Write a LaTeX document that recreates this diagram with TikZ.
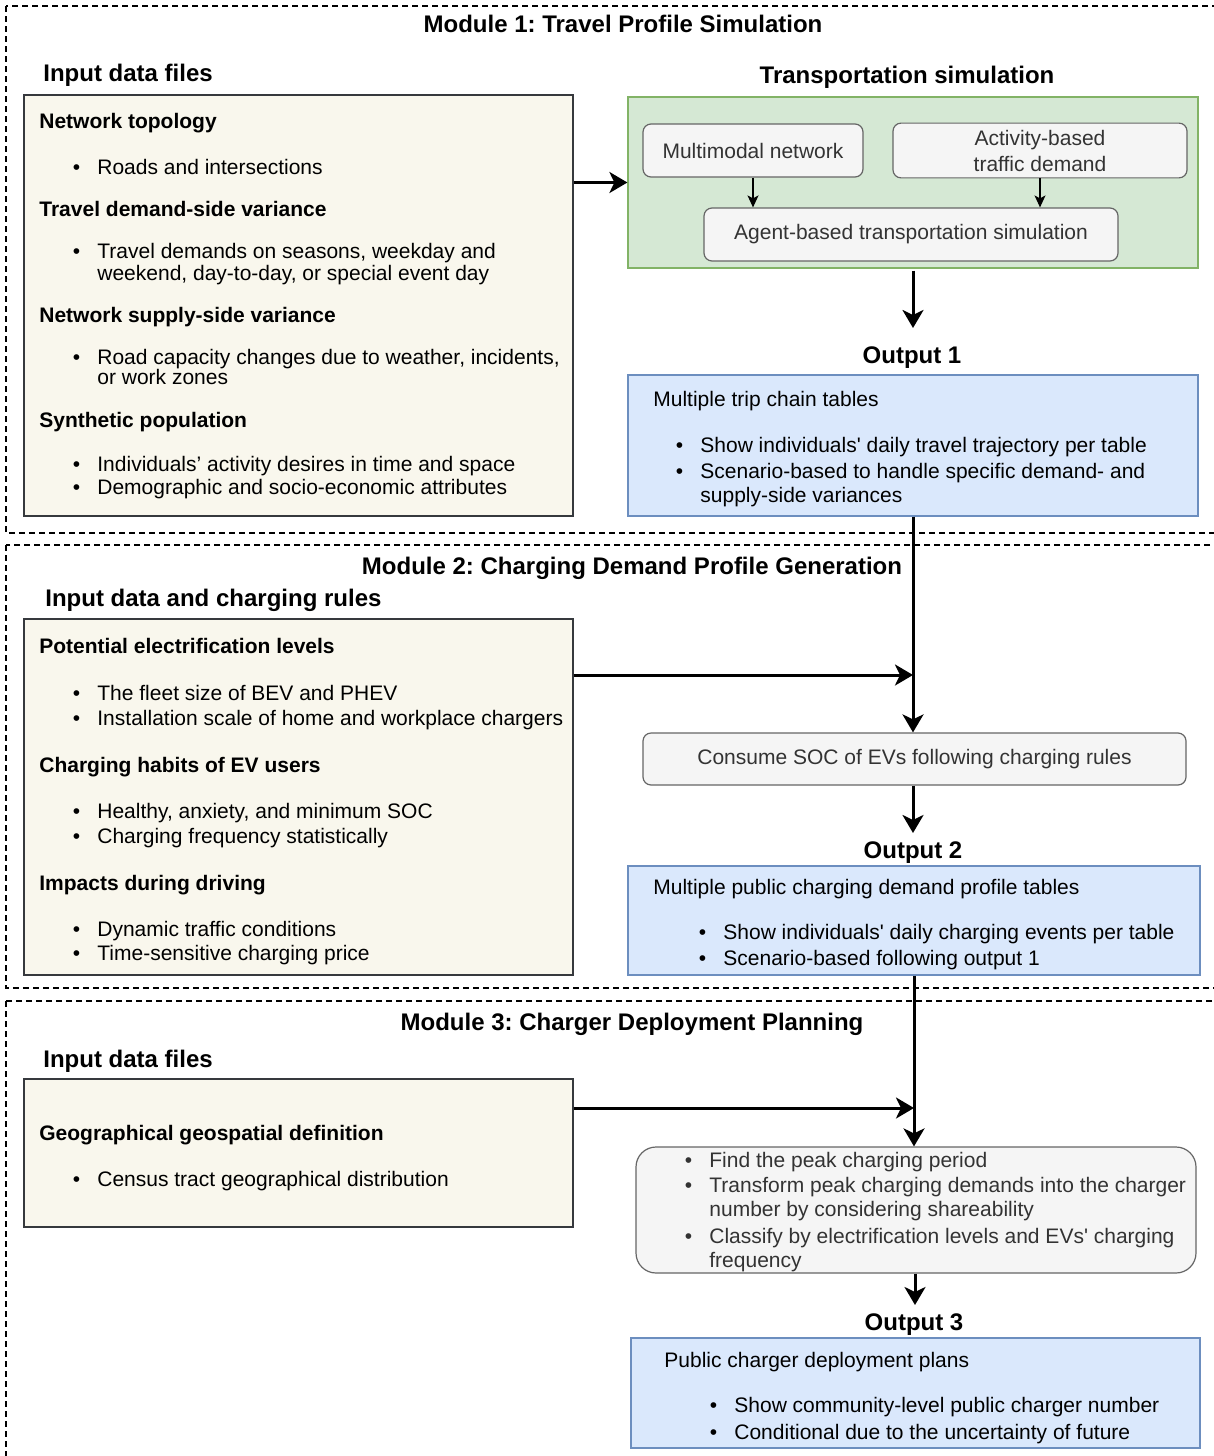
\documentclass[tikz,border=0pt]{standalone}
\usepackage{fontspec}
\setmainfont{Liberation Sans}
\usetikzlibrary{arrows.meta}

\definecolor{inputfill}{HTML}{F9F7ED}
\definecolor{inputdraw}{HTML}{36393D}
\definecolor{simfill}{HTML}{D5E8D4}
\definecolor{simdraw}{HTML}{82B366}
\definecolor{stepfill}{HTML}{F5F5F5}
\definecolor{stepdraw}{HTML}{666666}
\definecolor{steptext}{HTML}{333333}
\definecolor{outfill}{HTML}{DAE8FC}
\definecolor{outdraw}{HTML}{6C8EBF}

\newcommand{\bodyfont}{\fontsize{10.5}{13}\selectfont}
\newcommand{\titlefont}{\fontsize{12}{14}\selectfont\bfseries}
\frenchspacing

\begin{document}
\begin{tikzpicture}[x=0.5pt, y=-0.5pt,
    module frame/.style={draw, line width=0.7pt, dash pattern=on 3pt off 2pt},
    input node/.style={draw=inputdraw, fill=inputfill, line width=0.6pt},
    sim node/.style={draw=simdraw, fill=simfill, line width=0.6pt},
    step node/.style={draw=stepdraw, fill=stepfill, line width=0.6pt, rounded corners=4pt,
                      text=steptext, font=\bodyfont, align=center},
    output node/.style={draw=outdraw, fill=outfill, line width=0.6pt},
    title/.style={font=\titlefont, inner sep=0pt, text height=8.64pt, text depth=0pt},
    item/.style={font=\bodyfont, anchor=west, inner sep=0pt, text height=7.56pt, text depth=0pt},
    head/.style={item, font=\bodyfont\bfseries},
    bul/.style={item, execute at begin node={\llap{\textbullet\hspace{8.6pt}}}},
    big arrow/.style={-{Stealth[length=9pt, width=10.5pt, inset=2.5pt]}, line width=1.5pt},
    small arrow/.style={-{Stealth[length=6pt, width=5.5pt, inset=1.5pt]}, line width=0.6pt}]
  \useasboundingbox (0,0) rectangle (1214,1456);
  \clip (0,0) rectangle (1214,1456);

  % module frames
  \draw[module frame] (6,6) rectangle (1240,533);
  \draw[module frame] (6,545) rectangle (1240,988);
  \draw[module frame] (6,1001) rectangle (1240,1480);

  % Module 1
  \node[title] (m1) at (623,24) {Module 1: Travel Profile Simulation};
  \node[title, anchor=west] (in1title) at (43,73) {Input data files};
  \node[title] (simtitle) at (907,75) {Transportation simulation};

  \node[input node, minimum width=274.5pt, minimum height=210.5pt] (in1) at (298.5,305.5) {};
  \node[head] (h11) at (39,121) {Network topology};
  \node[bul]  (b11) at (97,167) {Roads and intersections};
  \node[head] (h12) at (39,209) {Travel demand-side variance};
  \node[bul]  (b12) at (97,251) {Travel demands on seasons, weekday and};
  \node[item] (b12b) at (97,273) {weekend, day-to-day, or special event day};
  \node[head] (h13) at (39,315) {Network supply-side variance};
  \node[bul]  (b13) at (97,357) {Road capacity changes due to weather, incidents,};
  \node[item] (b13b) at (97,377) {or work zones};
  \node[head] (h14) at (39,420) {Synthetic population};
  \node[bul]  (b14) at (97,464) {Individuals’ activity desires in time and space};
  \node[bul]  (b15) at (97,487) {Demographic and socio-economic attributes};

  \node[sim node, minimum width=285pt, minimum height=85.5pt] (sim) at (913,182.5) {};
  \node[step node, minimum width=110pt, minimum height=26.5pt] (multi) at (753,150.5) {Multimodal network};
  \node[step node, minimum width=147pt, minimum height=26.5pt] (activity) at (1040,150.5) {Activity-based\\traffic demand};
  \node[step node, minimum width=207pt, minimum height=26.5pt] (agent) at (911,234.5) {Agent-based transportation simulation};

  \coordinate (t1) at (913,328);
  \node[title] (out1title) at (912,355) {Output 1};
  \node[output node, minimum width=285pt, minimum height=70.5pt] (out1) at (913,445.5) {};
  \node[item] (o11) at (653,399) {Multiple trip chain tables};
  \node[bul]  (o12) at (700,445) {Show individuals\textquotesingle{} daily travel trajectory per table};
  \node[bul]  (o13) at (700,471) {Scenario-based to handle specific demand- and};
  \node[item] (o13b) at (700,495) {supply-side variances};

  \draw[big arrow] (in1.east |- sim.west) -- (sim.west);
  \draw[small arrow] (multi.south) -- (multi.south |- agent.north);
  \draw[small arrow] (activity.south) -- (activity.south |- agent.north);
  \draw[big arrow] ([yshift=-1pt]sim.south) -- (t1);

  % Module 2
  \node[title] (m2) at (632,566) {Module 2: Charging Demand Profile Generation};
  \node[title, anchor=west] (in2title) at (45,598) {Input data and charging rules};

  \node[input node, minimum width=274.5pt, minimum height=178pt] (in2) at (298.5,797) {};
  \node[head] (h21) at (39,646) {Potential electrification levels};
  \node[bul]  (b21) at (97,693) {The fleet size of BEV and PHEV};
  \node[bul]  (b22) at (97,718) {Installation scale of home and workplace chargers};
  \node[head] (h22) at (39,765) {Charging habits of EV users};
  \node[bul]  (b23) at (97,811) {Healthy, anxiety, and minimum SOC};
  \node[bul]  (b24) at (97,836) {Charging frequency statistically};
  \node[head] (h23) at (39,883) {Impacts during driving};
  \node[bul]  (b25) at (97,929) {Dynamic traffic conditions};
  \node[bul]  (b26) at (97,953) {Time-sensitive charging price};

  \node[step node, minimum width=271.5pt, minimum height=26pt] (consume) at (914.5,759) {Consume SOC of EVs following charging rules};
  \coordinate (j2) at (913,675);
  \coordinate (t2) at (913,833);
  \node[title] (out2title) at (913,850) {Output 2};
  \node[output node, minimum width=286pt, minimum height=54.5pt] (out2) at (914,920.5) {};
  \node[item] (o21) at (653,887) {Multiple public charging demand profile tables};
  \node[bul]  (o22) at (723,932) {Show individuals\textquotesingle{} daily charging events per table};
  \node[bul]  (o23) at (723,958) {Scenario-based following output 1};

  \draw[big arrow] (out1.south) -- (out1.south |- consume.north);
  \draw[big arrow] (in2.east |- j2) -- (j2);
  \draw[big arrow] (consume.south -| t2) -- (t2);

  % Module 3
  \node[title] (m3) at (632,1022) {Module 3: Charger Deployment Planning};
  \node[title, anchor=west] (in3title) at (43,1059) {Input data files};

  \node[input node, minimum width=274.5pt, minimum height=74pt] (in3) at (298.5,1153) {};
  \node[head] (h31) at (39,1133) {Geographical geospatial definition};
  \node[bul]  (b31) at (97,1179) {Census tract geographical distribution};

  \node[step node, rounded corners=10pt, minimum width=280pt, minimum height=63pt] (deploy) at (916,1210) {};
  \node[bul, text=steptext] (d1) at (709,1160) {Find the peak charging period};
  \node[bul, text=steptext] (d2) at (709,1185) {Transform peak charging demands into the charger};
  \node[item, text=steptext] (d2b) at (709,1209) {number by considering shareability};
  \node[bul, text=steptext] (d3) at (709,1236) {Classify by electrification levels and EVs\textquotesingle{} charging};
  \node[item, text=steptext] (d3b) at (709,1260) {frequency};

  \coordinate (j3) at (914,1108);
  \coordinate (t3) at (915,1305);
  \node[title] (out3title) at (914,1322) {Output 3};
  \node[output node, minimum width=284.5pt, minimum height=55pt] (out3) at (915.5,1393) {};
  \node[item] (o31) at (664,1360) {Public charger deployment plans};
  \node[bul]  (o32) at (734,1405) {Show community-level public charger number};
  \node[bul]  (o33) at (734,1432) {Conditional due to the uncertainty of future};

  \draw[big arrow] (out2.south -| j3) -- (j3 |- deploy.north);
  \draw[big arrow] (in3.east |- j3) -- (j3);
  \draw[big arrow] (deploy.south -| t3) -- (t3);
\end{tikzpicture}
\end{document}
